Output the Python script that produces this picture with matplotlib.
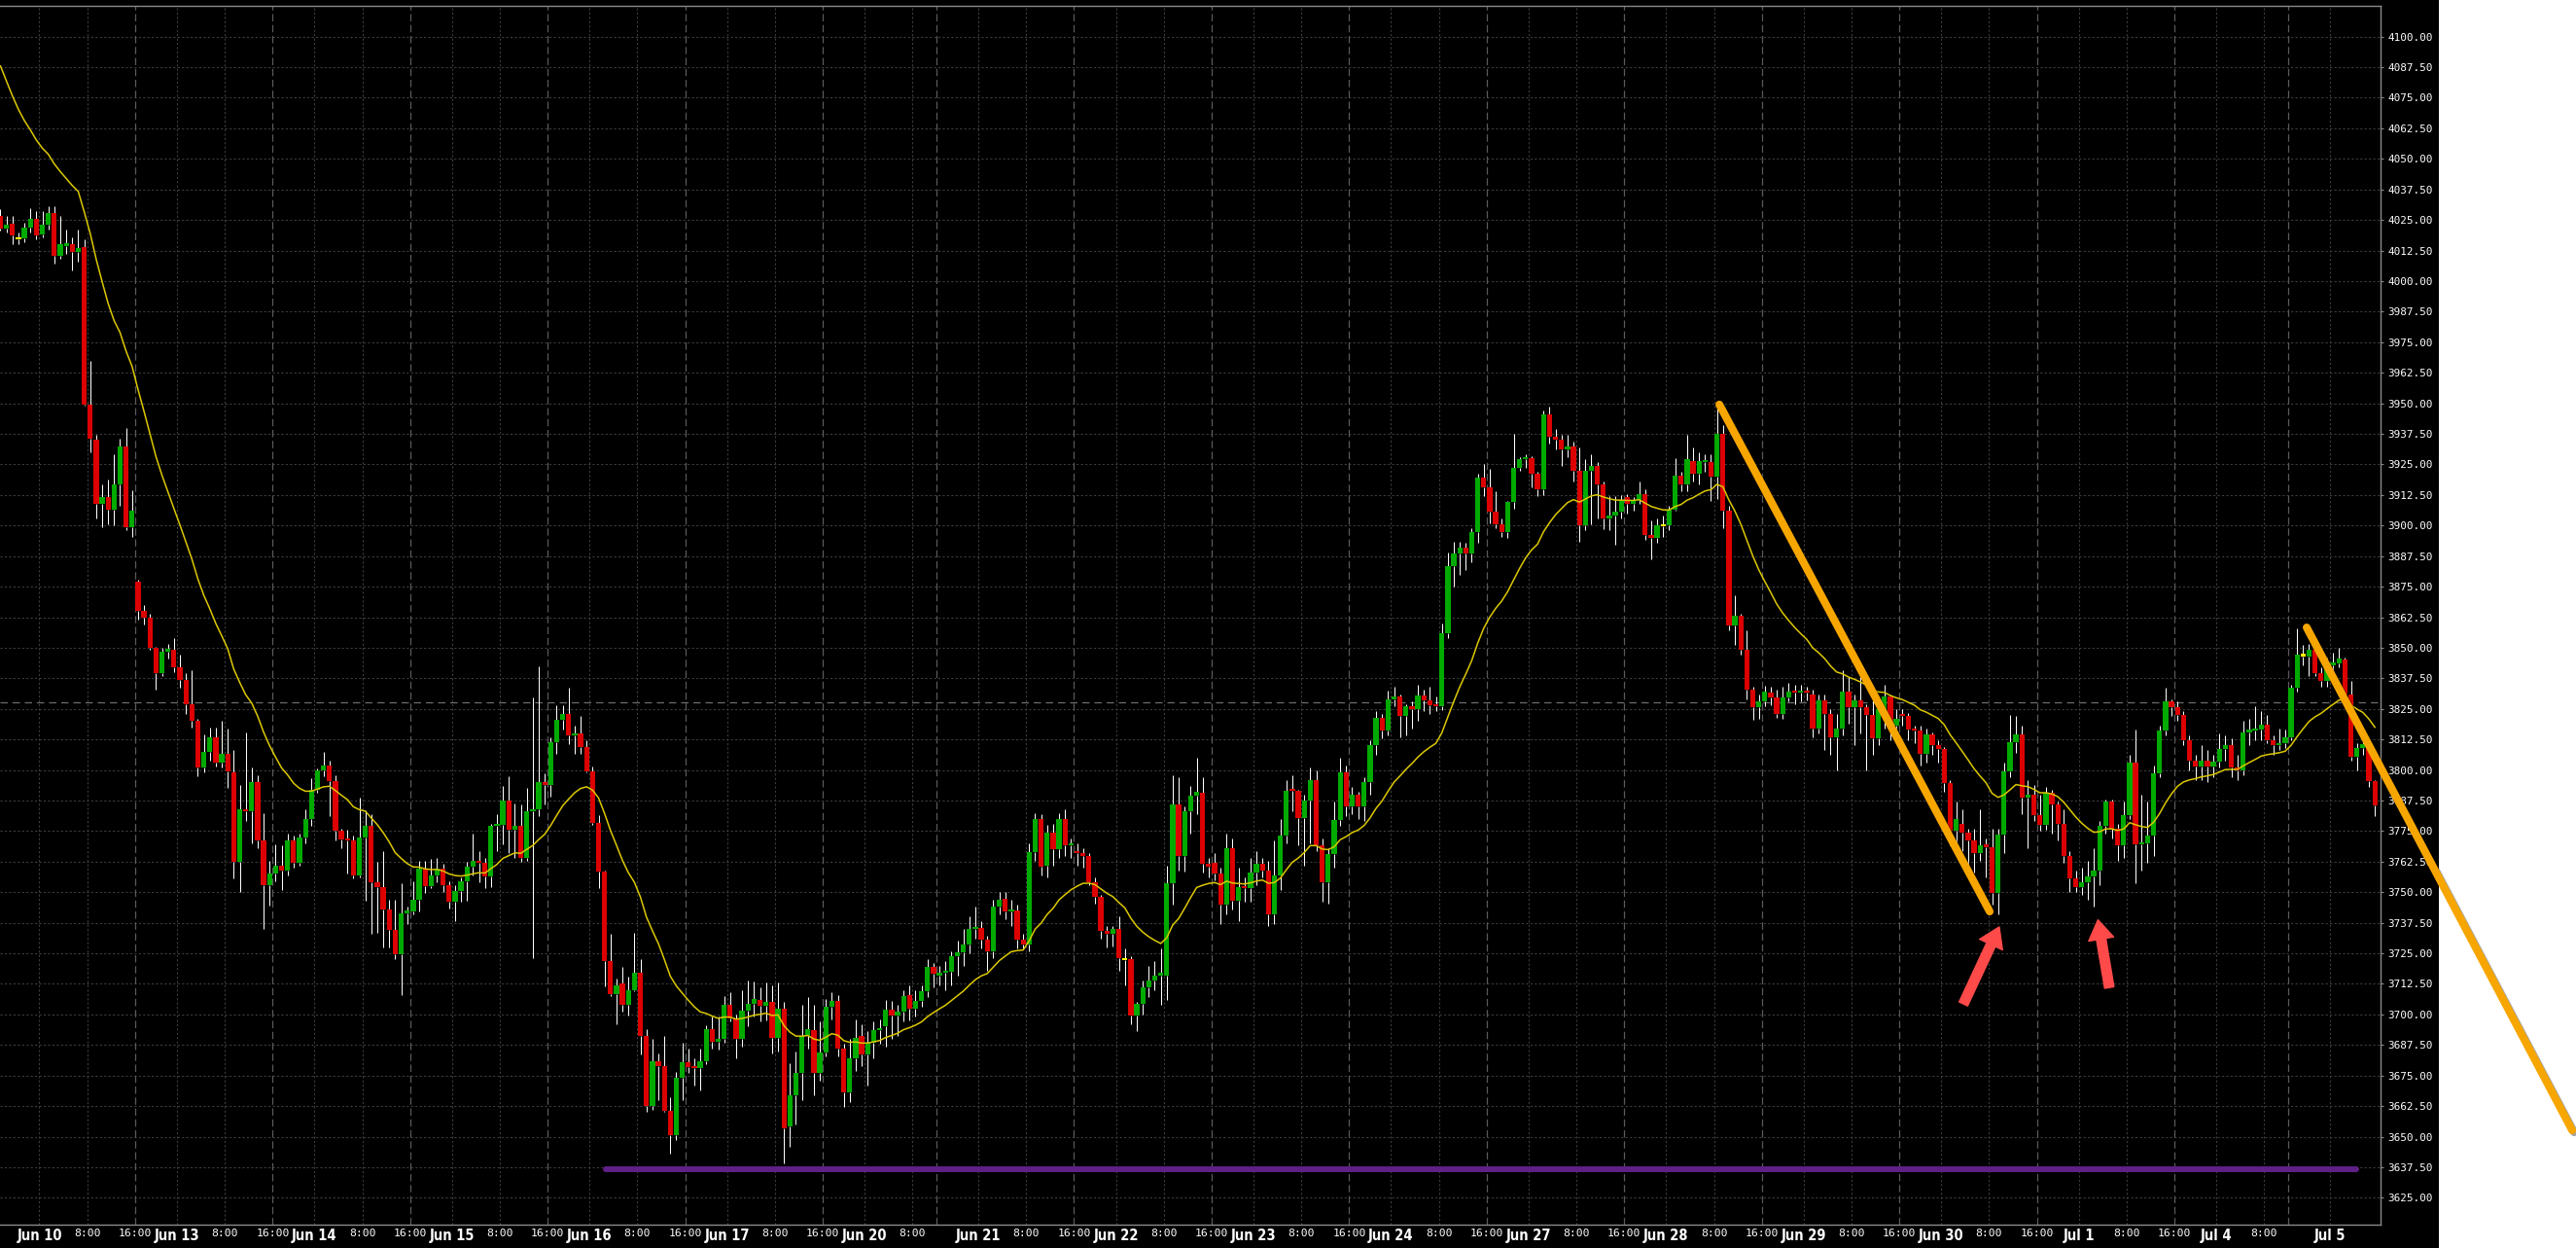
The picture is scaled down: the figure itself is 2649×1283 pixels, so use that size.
import numpy as np
import pandas as pd
import matplotlib
matplotlib.use('Agg')
import matplotlib.pyplot as plt
import matplotlib.patheffects as pe
from matplotlib.patches import Rectangle

# hourly ES bars, sessions run 17:00 (day before) -> last hour shown
session_days = ['2022-06-10', '2022-06-13', '2022-06-14', '2022-06-15', '2022-06-16', '2022-06-17',
                '2022-06-20', '2022-06-21', '2022-06-22', '2022-06-23', '2022-06-24', '2022-06-27',
                '2022-06-28', '2022-06-29', '2022-06-30', '2022-07-01', '2022-07-04', '2022-07-05']
session_last_hour = [15, 15, 15, 15, 15, 15, 11, 15, 15, 15, 15, 15, 15, 15, 15, 15, 11, 7]

opens = [
    4026.5, 4021.5, 4023.5, 4017.5, 4017.5, 4022, 4025.5, 4019, 4023, 4028,
    4010.5, 4014.5, 4015, 4012, 4014, 3949.5, 3935, 3909, 3911.5, 3906.5,
    3917, 3932.5, 3899.5, 3877, 3865, 3862.5, 3850, 3839.5, 3848.5, 3849,
    3842, 3837, 3827, 3820, 3801, 3807.5, 3813.5, 3803, 3806.5, 3799,
    3762.5, 3784, 3783, 3795, 3771, 3753, 3757.5, 3761, 3759, 3771,
    3762, 3772.5, 3780, 3792, 3800, 3802, 3795.5, 3775, 3771.5, 3771,
    3757, 3772.5, 3777, 3754, 3752, 3743, 3734.5, 3724.5, 3741.5, 3742,
    3747, 3759.5, 3752.5, 3757, 3759.5, 3753, 3746, 3750.5, 3754.5, 3760.5,
    3763, 3762, 3756.5, 3777, 3777.5, 3787.5, 3775.5, 3777, 3764, 3783,
    3784, 3795, 3794, 3811.5, 3820.5, 3823, 3814, 3815, 3809.5, 3799.5,
    3778.5, 3758.5, 3722, 3708.5, 3712.5, 3704, 3710, 3717, 3691, 3662.5,
    3681, 3679, 3660.5, 3650.5, 3674, 3680.5, 3678.5, 3678, 3681, 3694,
    3689, 3690, 3704, 3698.5, 3690, 3701.5, 3704.5, 3706, 3703.5, 3705,
    3690.5, 3702.5, 3654, 3667, 3676, 3691, 3693.5, 3676, 3684.5, 3703,
    3705.5, 3686, 3668, 3682, 3691, 3683.5, 3688.5, 3693.5, 3695, 3702,
    3699.5, 3701, 3708, 3702.5, 3705.5, 3709.5, 3719.5, 3716, 3717, 3717.5,
    3724, 3725.5, 3728.5, 3735, 3735.5, 3730.5, 3726, 3744, 3747.5, 3742,
    3742.5, 3730.5, 3728.5, 3766.5, 3780, 3761, 3774.5, 3767.5, 3780, 3769,
    3767, 3766, 3765, 3754, 3748, 3734, 3733, 3735, 3722.5, 3722.5,
    3699.5, 3704.5, 3711, 3714, 3716, 3716, 3753.5, 3786, 3765, 3783,
    3789.5, 3790.5, 3761.5, 3762, 3757.5, 3745, 3768, 3746.5, 3752, 3751.5,
    3758, 3761.5, 3759, 3741, 3757, 3773, 3792, 3791.5, 3780.5, 3787.5,
    3796, 3769, 3754, 3765.5, 3779.5, 3799, 3785, 3790, 3785, 3795,
    3810, 3821.5, 3816, 3829, 3830, 3822, 3826, 3825, 3830.5, 3828.5,
    3826.5, 3826, 3856, 3883.5, 3888.5, 3891, 3888.5, 3897.5, 3919.5, 3915.5,
    3905.5, 3900.5, 3897.5, 3909.5, 3923.5, 3927, 3927.5, 3921, 3915, 3945.5,
    3936.5, 3935, 3931, 3932.5, 3922.5, 3900, 3922.5, 3924.5, 3917, 3903,
    3904, 3905.5, 3911.5, 3909, 3910.5, 3913, 3896, 3895, 3900, 3900,
    3906.5, 3920.5, 3917, 3926.5, 3921, 3926, 3926, 3920, 3937.5, 3906,
    3859, 3863, 3849, 3833, 3825.5, 3828, 3831.5, 3829.5, 3823, 3829.5,
    3832, 3831.5, 3832, 3831, 3817, 3828.5, 3823, 3813.5, 3817, 3832,
    3825.5, 3828.5, 3825.5, 3822.5, 3813, 3825, 3830, 3818, 3822.5, 3822,
    3816.5, 3816, 3806.5, 3814.5, 3810, 3808.5, 3794.5, 3775, 3778, 3774.5,
    3771, 3766, 3769, 3768.5, 3749.5, 3773.5, 3799.5, 3811.5, 3814.5, 3788.5,
    3790, 3781.5, 3777.5, 3790.5, 3786, 3778, 3765, 3755.5, 3752, 3754,
    3756.5, 3759, 3777, 3787, 3776, 3769, 3781.5, 3803, 3769.5, 3770,
    3773, 3798.5, 3816, 3828, 3825.5, 3822.5, 3812, 3804, 3801.5, 3804,
    3801.5, 3803.5, 3808.5, 3810, 3801, 3800, 3815.5, 3816, 3816.5, 3818.5,
    3812, 3810, 3811, 3813.5, 3833.5, 3847, 3846.5, 3849, 3839.5, 3836.5,
    3843, 3843.5, 3845, 3831, 3805.5, 3809, 3810.5, 3795.5,
]

closes = [
    4021.5, 4023, 4018.5, 4017.5, 4022, 4025.5, 4018.5, 4023, 4028, 4010.5,
    4015, 4015, 4012, 4013.5, 3949.5, 3935.5, 3909, 3911.5, 3906.5, 3917,
    3932.5, 3899.5, 3906, 3865, 3862.5, 3850, 3839.5, 3848.5, 3849, 3842,
    3837, 3827, 3820, 3801, 3807.5, 3813.5, 3803, 3806.5, 3799.5, 3762.5,
    3784, 3783, 3795, 3771, 3753, 3757.5, 3761, 3759, 3771, 3762,
    3772.5, 3780, 3792, 3800, 3802, 3795.5, 3775, 3771.5, 3771, 3757,
    3772.5, 3777, 3754, 3752, 3743, 3734.5, 3724.5, 3741.5, 3742, 3747,
    3759.5, 3752.5, 3757, 3759.5, 3753, 3746, 3750.5, 3754.5, 3760.5, 3763,
    3762, 3756.5, 3777, 3777.5, 3787.5, 3775.5, 3777, 3764, 3783, 3784,
    3795, 3794, 3811.5, 3820.5, 3823, 3814, 3815, 3809.5, 3799.5, 3778.5,
    3758.5, 3722, 3708.5, 3712, 3704, 3710, 3717, 3691, 3662.5, 3681,
    3679, 3660.5, 3650.5, 3674, 3680.5, 3678.5, 3678, 3681, 3694, 3689,
    3690, 3704, 3698.5, 3690, 3701.5, 3704.5, 3706.5, 3703.5, 3705, 3690.5,
    3702.5, 3653.5, 3667, 3676, 3691, 3694, 3676, 3684.5, 3703, 3705.5,
    3686, 3668, 3682, 3690.5, 3683.5, 3688.5, 3693.5, 3694.5, 3702, 3699.5,
    3701, 3707.5, 3702.5, 3705.5, 3709.5, 3719.5, 3716.5, 3717, 3717.5, 3724,
    3725.5, 3728.5, 3735, 3735.5, 3730.5, 3726, 3744, 3747, 3742, 3742.5,
    3730.5, 3728.5, 3766.5, 3780, 3760.5, 3774.5, 3767.5, 3780, 3769, 3770,
    3766, 3765, 3754, 3748, 3734, 3733, 3735, 3723, 3722.5, 3699.5,
    3704.5, 3711, 3714, 3716, 3717, 3753.5, 3786, 3765, 3783, 3789.5,
    3791, 3761.5, 3760.5, 3757.5, 3745, 3768, 3746.5, 3752, 3751.5, 3758,
    3761.5, 3759, 3741, 3757, 3773, 3791.5, 3791.5, 3780.5, 3787.5, 3796,
    3769, 3754, 3765.5, 3779.5, 3799, 3785, 3790, 3785, 3795, 3810,
    3821.5, 3816, 3829, 3830, 3822, 3826, 3825, 3830.5, 3828.5, 3826.5,
    3826, 3856, 3883.5, 3888.5, 3891, 3888.5, 3897.5, 3919.5, 3915.5, 3905.5,
    3900.5, 3897.5, 3909.5, 3923.5, 3927, 3927.5, 3921, 3915, 3945.5, 3936.5,
    3935, 3931, 3932.5, 3922.5, 3900, 3922.5, 3924.5, 3917, 3903, 3904,
    3905.5, 3910, 3909, 3910.5, 3913, 3896, 3895, 3900, 3900, 3906.5,
    3920.5, 3917, 3927, 3921, 3926.5, 3926.5, 3920, 3937.5, 3906, 3859,
    3863, 3849, 3833, 3825.5, 3828, 3832, 3829.5, 3823, 3829.5, 3832,
    3831.5, 3832, 3831.5, 3817, 3828.5, 3823, 3813.5, 3817, 3832, 3825.5,
    3828.5, 3825.5, 3822.5, 3813, 3825, 3830, 3818, 3821, 3822, 3816.5,
    3816, 3806.5, 3814.5, 3810, 3808.5, 3794.5, 3775, 3780, 3774.5, 3771,
    3766, 3769, 3768.5, 3749.5, 3773.5, 3799.5, 3811.5, 3814.5, 3788.5, 3790,
    3781.5, 3777.5, 3790.5, 3786, 3778, 3765, 3755.5, 3752, 3754, 3756.5,
    3759, 3777, 3787, 3776, 3769, 3781.5, 3803, 3769.5, 3770, 3773,
    3798.5, 3816, 3828, 3825.5, 3822.5, 3812, 3804, 3801.5, 3804, 3801.5,
    3803.5, 3808.5, 3810, 3801, 3800, 3815.5, 3816, 3816.5, 3818.5, 3812,
    3810, 3811, 3813.5, 3833.5, 3847, 3847, 3849, 3839.5, 3836.5, 3843,
    3843.5, 3845.5, 3831, 3805.5, 3809, 3810.5, 3795.5, 3785.5,
]

highs = [
    4029.5, 4026.5, 4026.5, 4020, 4024, 4030, 4028.5, 4028.5, 4030.5, 4030.5,
    4026.5, 4021, 4018, 4021, 4017, 3967.5, 3937, 3917, 3919, 3929,
    3935.5, 3940, 3914.5, 3878, 3867.5, 3864, 3850.5, 3850, 3851.5, 3854,
    3847, 3839.5, 3841, 3821, 3814.5, 3817.5, 3817.5, 3820, 3817, 3808,
    3794, 3815.5, 3801, 3798, 3782.5, 3763, 3769.5, 3769, 3774, 3773,
    3774, 3784, 3796.5, 3800.5, 3807.5, 3804, 3798, 3776, 3775.5, 3773,
    3788.5, 3783.5, 3782, 3762.5, 3767, 3747, 3747, 3753.5, 3744, 3754.5,
    3763, 3763, 3763.5, 3764, 3761.5, 3754.5, 3753, 3756, 3762.5, 3774,
    3767, 3764, 3778, 3782, 3793.5, 3797.5, 3786.5, 3786, 3792.5, 3829.5,
    3842.5, 3798.5, 3813.5, 3826.5, 3826.5, 3833.5, 3818, 3822, 3812, 3801.5,
    3781.5, 3759, 3733, 3714.5, 3719.5, 3715.5, 3733.5, 3722.5, 3694, 3690,
    3684, 3691, 3666, 3676.5, 3688.5, 3686, 3682, 3686, 3695.5, 3699,
    3699, 3707.5, 3709, 3700, 3710, 3714, 3713.5, 3711, 3713, 3712,
    3713, 3705, 3680, 3685, 3704, 3707, 3704, 3697, 3706.5, 3709,
    3708, 3688, 3690, 3698, 3696, 3693, 3697, 3698, 3706, 3705.5,
    3704, 3710, 3712, 3710, 3712, 3722.5, 3721, 3720, 3722, 3726,
    3730, 3735, 3740, 3744, 3738, 3732, 3747, 3750, 3750, 3747,
    3745, 3733, 3770, 3782.5, 3782, 3777.5, 3778, 3782.5, 3784, 3772,
    3770, 3768, 3766, 3756, 3749, 3736, 3736, 3740, 3727, 3724,
    3705, 3714, 3720, 3722, 3727, 3761, 3798, 3797, 3785, 3793.5,
    3805, 3797, 3764, 3766, 3760, 3774, 3772, 3760, 3756, 3764,
    3767, 3764, 3763, 3771, 3780, 3796, 3798, 3792, 3790, 3801,
    3800, 3772, 3768, 3787, 3805, 3802, 3793, 3791, 3797, 3812,
    3824, 3823, 3832.5, 3834, 3831, 3827, 3828, 3835, 3833, 3834,
    3830, 3860, 3889, 3893.5, 3893.5, 3893, 3899, 3921, 3925, 3923,
    3914, 3903, 3910, 3937.5, 3928, 3929, 3928.5, 3922, 3947, 3948.5,
    3939.5, 3937, 3937, 3934.5, 3932, 3927, 3929, 3926, 3918, 3912,
    3912, 3912.5, 3913, 3911.5, 3918, 3915, 3902, 3903, 3904, 3908,
    3927.5, 3922, 3937, 3932, 3930, 3929, 3929, 3950, 3941, 3908,
    3871.5, 3864, 3857, 3834, 3831, 3834.5, 3834, 3833, 3834, 3835.5,
    3835, 3835, 3834, 3833, 3831, 3831, 3825, 3823, 3841, 3838,
    3831, 3838, 3827, 3831, 3829, 3835, 3831, 3825, 3825, 3823.5,
    3818, 3818, 3817, 3815.5, 3812, 3809.5, 3796, 3787, 3784, 3776,
    3776, 3784, 3772, 3776, 3776, 3803, 3822.5, 3822, 3818, 3796,
    3794, 3790, 3793, 3792, 3787, 3784, 3767, 3759, 3760, 3763,
    3768, 3779, 3788, 3788, 3778, 3787, 3806, 3816.5, 3790, 3787,
    3802, 3818, 3833.5, 3829, 3828, 3824, 3814, 3806, 3810, 3808,
    3806, 3815, 3814, 3813, 3806, 3820, 3821, 3826, 3824, 3822.5,
    3814, 3817, 3816.5, 3835, 3858, 3851, 3851.5, 3850, 3842, 3846,
    3848, 3850, 3846, 3836.5, 3811, 3812, 3811, 3796,
]

lows = [
    4020.5, 4020, 4015, 4015, 4016, 4020, 4017, 4018, 4021, 4007,
    4009, 4011, 4004.5, 4008, 3949, 3930, 3903, 3899.5, 3900.5, 3900,
    3908, 3898, 3895.5, 3861.5, 3859.5, 3849, 3833, 3838.5, 3845.5, 3840,
    3833.5, 3823, 3817.5, 3797.5, 3799, 3804, 3801.5, 3801, 3792.5, 3755.5,
    3750, 3779, 3770, 3768, 3735, 3744.5, 3754.5, 3751, 3757, 3760,
    3761, 3770, 3777, 3790.5, 3797.5, 3781, 3771, 3768, 3757.5, 3755.5,
    3756, 3746.5, 3733, 3733.5, 3727.5, 3727.5, 3722.5, 3708, 3737, 3741,
    3742, 3749.5, 3751.5, 3754, 3750, 3743.5, 3738, 3746, 3746.5, 3757,
    3754, 3751.5, 3752, 3767, 3769.5, 3766, 3764, 3762.5, 3763, 3723,
    3781, 3786, 3789, 3806.5, 3816.5, 3810.5, 3806.5, 3806.5, 3799, 3777.5,
    3751.5, 3711.5, 3707.5, 3696, 3701, 3699.5, 3709.5, 3683.5, 3660, 3661,
    3665, 3660, 3643, 3648.5, 3665, 3676, 3671, 3669, 3679.5, 3686,
    3685.5, 3688.5, 3697, 3682, 3687, 3695, 3699, 3697, 3697.5, 3684,
    3685, 3639, 3646, 3655, 3665, 3686, 3667, 3673, 3683, 3698,
    3683, 3662, 3664, 3677, 3679, 3671, 3682, 3688, 3687, 3690,
    3691, 3697, 3697.5, 3699, 3703, 3707, 3711, 3712, 3710, 3712,
    3716, 3720, 3725, 3731, 3727, 3718, 3723, 3741, 3739, 3736,
    3727, 3726.5, 3726, 3763, 3757, 3756, 3761, 3764, 3765, 3764,
    3761, 3760, 3753, 3745.5, 3731, 3727.5, 3728, 3718, 3712, 3696,
    3693, 3700, 3707, 3710, 3704, 3706, 3745, 3759, 3758.5, 3774,
    3782, 3758, 3756, 3755, 3737, 3741, 3743, 3738, 3746, 3746,
    3753, 3756, 3736, 3737, 3751, 3770, 3783, 3769, 3761, 3770,
    3767, 3746, 3745.5, 3760, 3777, 3781, 3782, 3780, 3779, 3790,
    3806, 3813, 3814, 3826, 3813.5, 3814, 3817, 3820, 3824, 3823,
    3824, 3824.5, 3854, 3875, 3880, 3882, 3885, 3893, 3912, 3901,
    3899, 3895.5, 3895, 3907, 3922.5, 3923.5, 3915.5, 3912, 3912.5, 3933.5,
    3931, 3924.5, 3928, 3918, 3893.5, 3898, 3900.5, 3903, 3898.5, 3898,
    3892, 3903, 3905, 3906, 3909, 3894, 3886, 3893, 3895.5, 3898,
    3906, 3914, 3914, 3918, 3917, 3922, 3910, 3911, 3899, 3857,
    3851, 3847, 3829, 3820.5, 3821, 3826, 3826.5, 3821.5, 3821, 3828,
    3827, 3828, 3828.5, 3813.5, 3815, 3808, 3806, 3800, 3814, 3819,
    3810, 3815, 3800, 3806, 3810, 3817, 3812, 3814, 3818, 3812,
    3811, 3802, 3803, 3806, 3803, 3791, 3769, 3770, 3767, 3759,
    3758, 3763, 3756, 3745, 3741, 3766, 3797, 3807, 3782, 3768,
    3779, 3775, 3775.5, 3774, 3771, 3762, 3750, 3750, 3749, 3747,
    3744, 3753, 3774, 3772, 3763, 3764, 3780, 3753.5, 3759, 3762,
    3765, 3797, 3814, 3822, 3820, 3810, 3800, 3796, 3796, 3795,
    3797, 3801, 3804, 3797, 3796, 3798, 3810, 3812, 3812, 3811,
    3806, 3808, 3809, 3812, 3832, 3843, 3838.5, 3838.5, 3834, 3834,
    3841, 3842, 3828, 3804, 3800, 3806, 3793, 3781,
]

ma_start = 4088.0      # yellow average where it enters the chart
ma_span = 20
current_level = 3827.5  # grey dashed price line
support_level = 3636.5  # purple line
support_span = (101.2, 393.9)
trend_lines = [((287.4, 3949.5), (332.6, 3742.1)),
               ((385.6, 3858.3), (430.0, 3652.6))]
arrows = [((328.2, 3704.3), (334.2, 3735.8)),
          ((352.6, 3711.0), (350.7, 3738.7))]

# ---- time index
times = []
for day, last in zip(session_days, session_last_hour):
    d = pd.Timestamp(day)
    start = d - pd.Timedelta(days=1) + pd.Timedelta(hours=17)
    times.extend(pd.date_range(start, d + pd.Timedelta(hours=last), freq='h'))

o = np.array(opens); c = np.array(closes)
h = np.array(highs); l = np.array(lows)
x = np.arange(len(c))

alpha = 2.0 / (ma_span + 1)
ma = [ma_start]
for v in c[1:]:
    ma.append(ma[-1] + alpha * (v - ma[-1]))

# ---- figure
W, H = 2649, 1283
fig = plt.figure(figsize=(W / 100, H / 100), dpi=100, facecolor='white')
fig.add_artist(Rectangle((0, 0), 2508 / W, 1, transform=fig.transFigure,
                         facecolor='black', edgecolor='none', zorder=-10))
ax = fig.add_axes([0, 24 / H, 2448.3 / W, 1253 / H])
ax.set_facecolor('black')
ax.set_xlim(-0.08, 398.0)
ax.set_ylim(3614.0, 4112.6)

yticks = np.arange(3625, 4100.1, 12.5)
for yv in yticks:
    ax.axhline(yv, color='#3c3c3c', lw=0.8, ls=(0, (2, 2)), zorder=0)

tick_pos, tick_lab, tick_kind = [], [], []
for i, t in enumerate(times):
    if t.hour == 0:
        tick_pos.append(i - 0.5); tick_lab.append(f'{t:%b} {t.day}'); tick_kind.append('day')
    elif t.hour == 8:
        tick_pos.append(i - 0.5); tick_lab.append('8:00'); tick_kind.append('time')
    elif t.hour == 17 and i > 0:
        tick_pos.append(i - 0.5)
        tick_lab.append('16:00' if times[i - 1].hour == 15 else '')
        tick_kind.append('break')

for p, k in zip(tick_pos, tick_kind):
    if k == 'break':
        ax.axvline(p, color='#5a5a5a', lw=0.9, ls=(0, (6, 3)), zorder=0)
    else:
        ax.axvline(p, color='#3c3c3c', lw=0.8, ls=(0, (2, 2)), zorder=0)

ax.axhline(current_level, color='#6e6e6e', lw=0.9, ls=(0, (6, 4)), zorder=0.5)

# candles: wicks above and below the body, then the body
colors = np.where(c > o, '#00aa00', np.where(c < o, '#dc0000', '#ffff00'))
body = np.maximum(np.abs(c - o), 0.9)
bottom = np.where(c == o, c - 0.45, np.minimum(o, c))
top = bottom + body
ax.vlines(x, top, h, color='white', lw=0.72, zorder=1)
ax.vlines(x, l, bottom, color='white', lw=0.72, zorder=1)
ax.bar(x, body, bottom=bottom, width=0.86, color=colors, linewidth=0, zorder=2)

ax.plot(x, ma, color='#dcc800', lw=1.1, zorder=3)

# drawings
ax.plot(support_span, [support_level, support_level], color='#5f2087', lw=4.3,
        solid_capstyle='round', zorder=4)
for (x0, y0), (x1, y1) in trend_lines:
    ax.plot([x0, x1], [y0, y1], color='#f7a600', lw=5.8, solid_capstyle='round',
            clip_on=False, zorder=5,
            path_effects=[pe.SimpleLineShadow(offset=(1.5, -1.5), alpha=0.35), pe.Normal()])
for (x0, y0), (x1, y1) in arrows:
    ax.annotate('', xy=(x1, y1), xytext=(x0, y0), annotation_clip=False, zorder=5,
                arrowprops=dict(arrowstyle='simple,head_length=1.03,head_width=1.34,tail_width=0.5',
                                mutation_scale=14, color='#ff4a4a', shrinkA=0, shrinkB=0))

# axes styling
ax.spines['left'].set_visible(False)
for side in ['right', 'top', 'bottom']:
    ax.spines[side].set_color('#8a8a8a')
    ax.spines[side].set_linewidth(1.0)

ax.yaxis.tick_right()
ax.set_yticks(yticks)
ax.set_yticklabels([f'{v:.2f}' for v in yticks])
ax.tick_params(axis='y', colors='#8a8a8a', length=2.5, width=0.8, pad=2.5, labelcolor='white')
for lbl in ax.get_yticklabels():
    lbl.set_fontfamily('DejaVu Sans Mono')
    lbl.set_fontsize(7.9)

ax.set_xticks(tick_pos)
ax.set_xticklabels(tick_lab)
ax.tick_params(axis='x', length=0, pad=3, labelcolor='white')
for lbl, k in zip(ax.get_xticklabels(), tick_kind):
    if k == 'day':
        lbl.set_fontfamily(['Liberation Sans Narrow', 'DejaVu Sans'])
        lbl.set_fontstretch('condensed')
        lbl.set_fontweight('bold')
        lbl.set_fontsize(10.5)
    else:
        lbl.set_fontfamily('DejaVu Sans Mono')
        lbl.set_fontsize(8.2)
        lbl.set_color('white')

fig.savefig('out.png', dpi=100, facecolor='white')
